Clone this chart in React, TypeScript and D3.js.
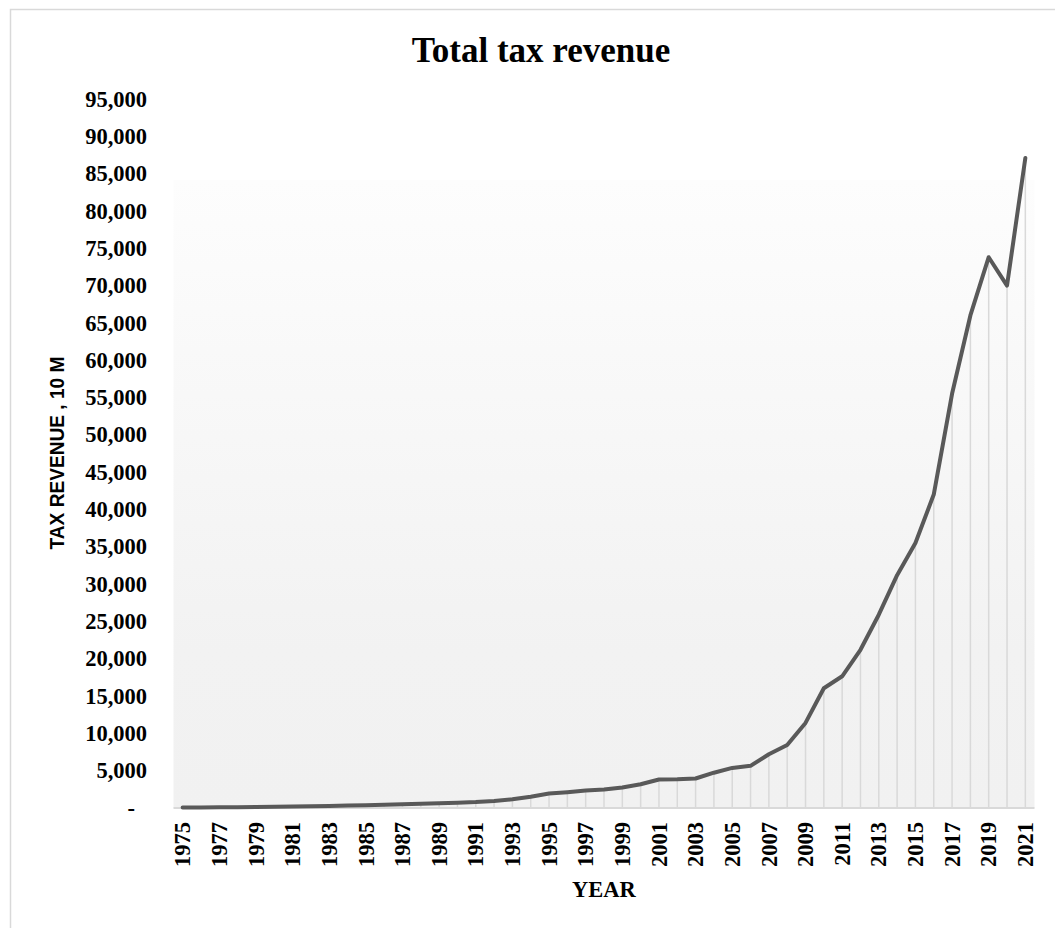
import React from "react";
import * as d3 from "d3";

const years: number[] = [
  1975, 1976, 1977, 1978, 1979, 1980, 1981, 1982, 1983, 1984, 1985, 1986,
  1987, 1988, 1989, 1990, 1991, 1992, 1993, 1994, 1995, 1996, 1997, 1998,
  1999, 2000, 2001, 2002, 2003, 2004, 2005, 2006, 2007, 2008, 2009, 2010,
  2011, 2012, 2013, 2014, 2015, 2016, 2017, 2018, 2019, 2020, 2021,
];

const taxRevenue: number[] = [
  60, 75, 95, 115, 140, 170, 210, 245, 280, 320, 370, 430,
  500, 580, 650, 720, 800, 950, 1160, 1520, 1950, 2120, 2330, 2470,
  2750, 3180, 3820, 3840, 3950, 4730, 5370, 5650, 7200, 8450, 11400, 16050,
  17650, 21200, 25900, 31200, 35500, 42000, 55500, 66000, 73800, 70000, 87100,
];

const yTicks: number[] = d3.range(0, 95001, 5000);
const xLabelYears: number[] = years.filter((y) => y % 2 === 1);

const title = "Total tax revenue";
const xTitle = "YEAR";
const yTitle = "TAX REVENUE , 10 M";

export default function App() {
  const W = 1055;
  const H = 928;
  const left = 173.5;
  const right = 1034.5;
  const top = 99;
  const bottom = 808;

  const x = d3.scalePoint<number>().domain(years).range([left, right]).padding(0.5);
  const y = d3.scaleLinear().domain([0, 95000]).range([bottom, top]);

  const pts = years.map((yr, i) => ({ yr, v: taxRevenue[i] }));
  const line = d3
    .line<{ yr: number; v: number }>()
    .x((d) => x(d.yr) as number)
    .y((d) => y(d.v));

  const fmt = d3.format(",");
  const serif = "'Liberation Serif', 'Times New Roman', serif";

  return (
    <svg
      width={W}
      height={H}
      style={{ position: "absolute", left: 0, top: 0, background: "#fff" }}
    >
      <defs>
        <linearGradient id="plotGrad" x1="0" y1="0" x2="0" y2="1">
          <stop offset="0%" stopColor="#fdfdfd" />
          <stop offset="75%" stopColor="#f2f2f2" />
          <stop offset="100%" stopColor="#f1f1f1" />
        </linearGradient>
      </defs>
      <rect x={10.5} y={9.5} width={1200} height={1000} fill="#fff" stroke="#d9d9d9" strokeWidth={1.5} />

      <text
        x={541}
        y={62}
        textAnchor="middle"
        fontFamily={serif}
        fontWeight="bold"
        fontSize={35}
        fill="#000"
      >
        {title}
      </text>

      {/* plot background */}
      <rect x={left} y={180} width={right - left} height={bottom - 180} fill="url(#plotGrad)" />

      {/* drop lines */}
      {pts.map((d) => (
        <line
          key={"drop" + d.yr}
          x1={x(d.yr)}
          x2={x(d.yr)}
          y1={y(d.v)}
          y2={bottom}
          stroke="#d9d9d9"
          strokeWidth={1.5}
        />
      ))}

      {/* x axis line */}
      <line x1={left} x2={right} y1={bottom} y2={bottom} stroke="#d9d9d9" strokeWidth={2} />

      {/* data line */}
      <path
        d={line(pts) || ""}
        fill="none"
        stroke="#595959"
        strokeWidth={4}
        strokeLinejoin="round"
        strokeLinecap="round"
      />

      {/* y tick labels */}
      {yTicks.map((t) => (
        <text
          key={"yt" + t}
          x={t === 0 ? 135 : 147}
          y={y(t)}
          dy="0.34em"
          textAnchor="end"
          fontFamily={serif}
          fontWeight="bold"
          fontSize={22.5}
          fill="#000"
        >
          {t === 0 ? "-" : fmt(t)}
        </text>
      ))}

      {/* x tick labels */}
      {xLabelYears.map((yr) => {
        const cx = x(yr) as number;
        return (
          <text
            key={"xt" + yr}
            transform={`translate(${cx},822) rotate(-90)`}
            dy="0.34em"
            textAnchor="end"
            fontFamily={serif}
            fontWeight="bold"
            fontSize={22.5}
            fill="#000"
          >
            {yr}
          </text>
        );
      })}

      {/* axis titles */}
      <text
        x={604}
        y={897}
        textAnchor="middle"
        fontFamily={serif}
        fontWeight="bold"
        fontSize={22.5}
        fill="#000"
      >
        {xTitle}
      </text>
      <text
        transform="translate(64,453) rotate(-90)"
        textAnchor="middle"
        fontFamily="'Liberation Sans', Arial, sans-serif"
        fontWeight="bold"
        fontSize={21}
        textLength={193}
        lengthAdjust="spacingAndGlyphs"
        fill="#000"
      >
        {yTitle}
      </text>
    </svg>
  );
}
